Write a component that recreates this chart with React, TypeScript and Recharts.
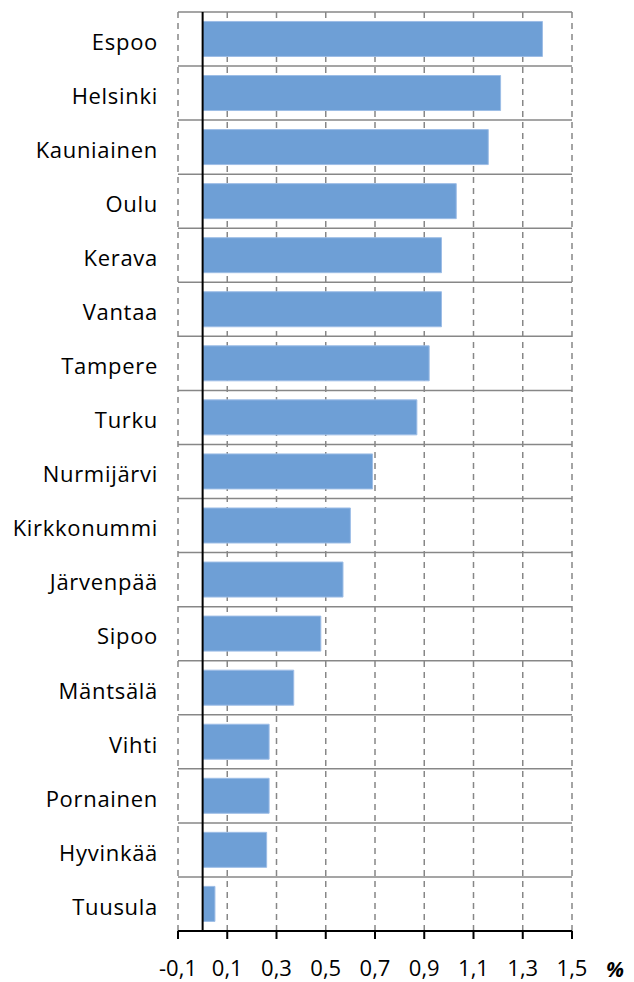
import React from 'react';
import { BarChart, Bar, XAxis, YAxis, CartesianGrid, ReferenceLine, Label } from 'recharts';

const municipalities = [
  'Espoo', 'Helsinki', 'Kauniainen', 'Oulu', 'Kerava', 'Vantaa', 'Tampere', 'Turku',
  'Nurmijärvi', 'Kirkkonummi', 'Järvenpää', 'Sipoo', 'Mäntsälä', 'Vihti', 'Pornainen',
  'Hyvinkää', 'Tuusula',
];
const values = [
  1.38, 1.21, 1.16, 1.03, 0.97, 0.97, 0.92, 0.87,
  0.69, 0.6, 0.57, 0.48, 0.37, 0.27, 0.27,
  0.26, 0.05,
];
const xTicks = [-0.1, 0.1, 0.3, 0.5, 0.7, 0.9, 1.1, 1.3, 1.5];

const data = municipalities.map((name, i) => ({ name, value: values[i] }));

const FONT = '"Open Sans", sans-serif';

export default function App() {
  const n = municipalities.length;
  return (
    <div style={{ position: 'absolute', left: 0, top: 0, width: 634, height: 982, background: '#fff' }}>
      <BarChart
        width={634}
        height={982}
        data={data}
        layout="vertical"
        margin={{ top: 12, right: 62, bottom: 11, left: 0 }}
        barCategoryGap="17.5%"
      >
        <CartesianGrid
          horizontal={false}
          vertical={true}
          stroke="#878787"
          strokeWidth={1.5}
          strokeDasharray="6 5"
        />
        <CartesianGrid
          vertical={false}
          horizontal={true}
          stroke="#878787"
          strokeWidth={1.5}
          horizontalCoordinatesGenerator={({ offset }: any) =>
            Array.from({ length: n + 1 }, (_, i) => offset.top + (i * offset.height) / n)
          }
        />
        <XAxis
          type="number"
          domain={[-0.1, 1.5]}
          ticks={xTicks}
          interval={0}
          height={40}
          tickFormatter={(v: number) => v.toFixed(1).replace('.', ',')}
          axisLine={{ stroke: '#000', strokeWidth: 2 }}
          tickLine={{ stroke: '#000', strokeWidth: 2 }}
          tickSize={8}
          tickMargin={21}
          tick={{ fill: '#000', fontSize: 22, fontFamily: FONT }}
        >
          <Label
            value="%"
            position="right"
            offset={34}
            dy={19}
            style={{ fontWeight: 'bold', fontStyle: 'italic', fontSize: 21, fontFamily: FONT, fill: '#000' }}
          />
        </XAxis>
        <YAxis
          type="category"
          dataKey="name"
          width={178}
          axisLine={false}
          tickLine={false}
          tickSize={0}
          tickMargin={20}
          interval={0}
          tick={{ fill: '#000', fontSize: 22, fontFamily: FONT, dy: 3, letterSpacing: 0.7 }}
        />
        <Bar dataKey="value" fill="#6e9fd6" stroke="#9dbde6" strokeWidth={1} isAnimationActive={false} />
        <ReferenceLine x={0} stroke="#000" strokeWidth={2} />
      </BarChart>
    </div>
  );
}
